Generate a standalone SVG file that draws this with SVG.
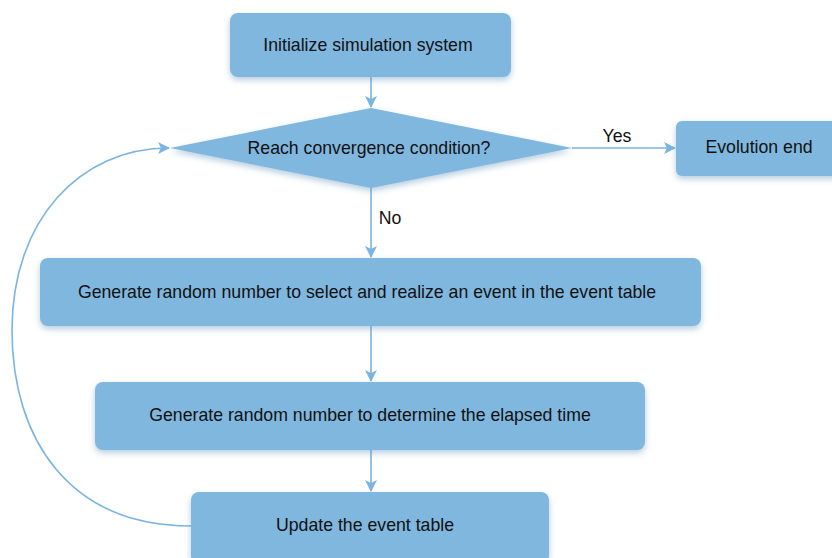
<svg xmlns="http://www.w3.org/2000/svg" width="832" height="558" viewBox="0 0 832 558">
<defs>
<filter id="sh" x="-10%" y="-30%" width="120%" height="170%">
<feDropShadow dx="0" dy="3" stdDeviation="3" flood-color="#5a8fb8" flood-opacity="0.45"/>
</filter>
<marker id="arr" viewBox="0 0 12 12" refX="11" refY="6" markerWidth="12" markerHeight="12" markerUnits="userSpaceOnUse" orient="auto">
<path d="M0,0 L12,6 L0,12 L3,6 Z" fill="#7ab4e0"/>
</marker>
<style>
.n{fill:#80b7df;filter:url(#sh)}
.t{font-family:"Liberation Sans",Arial,sans-serif;font-size:17.7px;fill:#111;text-anchor:middle;dominant-baseline:central}
.c{fill:none;stroke:#7ab4e0;stroke-width:1.6;marker-end:url(#arr)}
</style>
</defs>
<rect width="832" height="558" fill="#fff"/>
<g id="connectors">
<path class="c" d="M371,77 L371,107"/>
<path class="c" d="M572,148 L675,148"/>
<path class="c" d="M371,188 L371,257"/>
<path class="c" d="M371,326 L371,381"/>
<path class="c" d="M371,450 L371,491"/>
<path class="c" d="M191,526 C70,526 12,440 12,330 C12,220 80,148 169,148"/>
<text class="t" x="617" y="136">Yes</text>
<text class="t" x="390" y="218">No</text>
</g>
<g id="init">
<rect class="n" x="230" y="13" width="281" height="64" rx="8"/>
<text class="t" x="368" y="45">Initialize simulation system</text>
</g>
<g id="decision">
<path class="n" d="M371,108 L572,148 L371,188 L170,148 Z"/>
<text class="t" x="369" y="148">Reach convergence condition?</text>
</g>
<g id="end">
<rect class="n" x="676" y="121" width="170" height="55" rx="6"/>
<text class="t" x="759" y="147">Evolution end</text>
</g>
<g id="select">
<rect class="n" x="40" y="258" width="661" height="68" rx="8"/>
<text class="t" x="367" y="292">Generate random number to select and realize an event in the event table</text>
</g>
<g id="time">
<rect class="n" x="95" y="382" width="550" height="68" rx="8"/>
<text class="t" x="370" y="415">Generate random number to determine the elapsed time</text>
</g>
<g id="update">
<rect class="n" x="191" y="492" width="358" height="72" rx="8"/>
<text class="t" x="365" y="525">Update the event table</text>
</g>
</svg>
